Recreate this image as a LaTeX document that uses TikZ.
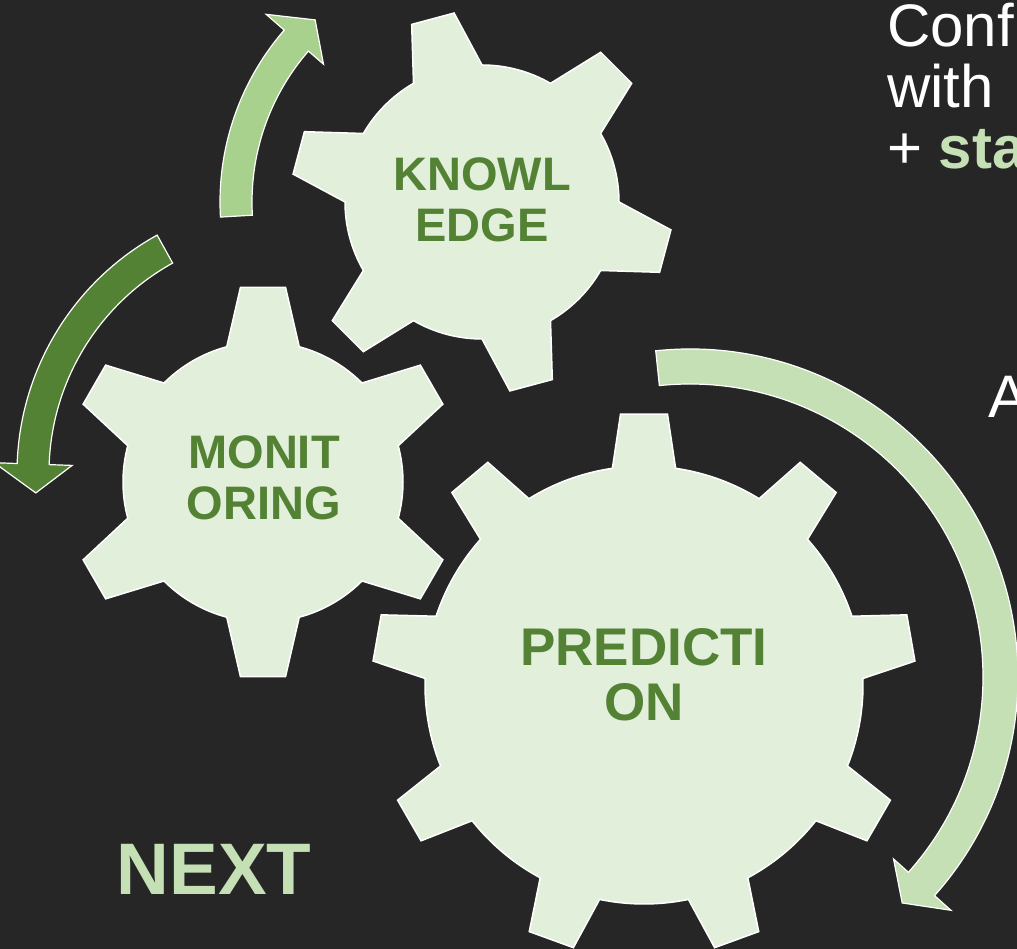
\documentclass[tikz,border=0pt]{standalone}
\usepackage{fontspec}
\setmainfont{Liberation Sans}

\definecolor{backdrop}{HTML}{262626}
\definecolor{gearfill}{HTML}{E2EFDA}
\definecolor{darkgreen}{HTML}{548235}
\definecolor{midgreen}{HTML}{A9D18E}
\definecolor{palegreen}{HTML}{C5E0B4}

\begin{document}
\begin{tikzpicture}[x=1pt, y=1pt,
	cog/.style={fill=gearfill, draw=white, line width=1.5pt},
	bow/.style={draw=white, line width=1.2pt},
	lbl/.style={text=darkgreen, font=\bfseries\fontsize{47}{51}\selectfont, align=center, inner sep=0pt},
	side/.style={anchor=base west, text=white, font=\fontsize{60}{61}\selectfont, inner sep=0pt}]

\fill[backdrop] (0,0) rectangle (1017,949);
\useasboundingbox (0,0) rectangle (1017,949);
\clip (0,0) rectangle (1017,949);

% gears
\begin{scope}[shift={(482,747)}]
\draw[cog] (90:137) \foreach \a in {105,165,...,405} {-- (\a-15:137) -- (\a-6.6:191) -- (\a+6.6:191) -- (\a+15:137) arc[start angle=\a+15, end angle=\a+45, radius=137]} -- cycle;
\end{scope}
\begin{scope}[shift={(263,467)}]
\draw[cog] (75:140) \foreach \a in {90,150,...,390} {-- (\a-15:140) -- (\a-6.6:196) -- (\a+6.6:196) -- (\a+15:140) arc[start angle=\a+15, end angle=\a+45, radius=140]} -- cycle;
\end{scope}
\begin{scope}[shift={(644,264)}]
\draw[cog] (81.7:219) \foreach \a in {90,130,...,410} {-- (\a-8.3:219) -- (\a-4.95:272) -- (\a+4.95:272) -- (\a+8.3:219) arc[start angle=\a+8.3, end angle=\a+31.7, radius=219]} -- cycle;
\end{scope}

% circular arrows
\begin{scope}[shift={(482,747)}]
\draw[bow, fill=midgreen] (183.3:262) arc[start angle=183.3, end angle=139, radius=262] -- (139:286) -- (132.5:247) -- (139:210) -- (139:230) arc[start angle=139, end angle=183.3, radius=230] -- cycle;
\end{scope}
\begin{scope}[shift={(289,476)}]
\draw[bow, fill=darkgreen] (119:272) arc[start angle=119, end angle=178, radius=272] -- (178:295) -- (184.5:254) -- (178:217) -- (178:240) arc[start angle=178, end angle=119, radius=240] -- cycle;
\end{scope}
\begin{scope}[shift={(690,272)}]
\draw[bow, fill=palegreen] (96:328) arc[start angle=96, end angle=-41.8, radius=328] -- (-41.8:350) -- (-46.8:310) -- (-41.8:273) -- (-41.8:293) arc[start angle=-41.8, end angle=96, radius=293] -- cycle;
\end{scope}

% labels
\node[lbl] (knowledge) at (482,749) {KNOWL\\EDGE};
\node[lbl] (monitoring) at (264,471) {MONIT\\ORING};
\node[lbl, font=\bfseries\fontsize{53}{55}\selectfont] (prediction) at (644,274) {PREDICTI\\ON};
\node[text=palegreen, font=\bfseries\fontsize{73}{80}\selectfont, inner sep=0pt] (next) at (214,80) {NEXT};

\node[side] (conf) at (887,902) {Conf};
\node[side] (with) at (887,841) {with};
\node[side] (plus) at (887,780) {+ \textcolor{palegreen}{\bfseries sta}};
\node[side] (aside) at (988,531) {A};

\end{tikzpicture}
\end{document}
